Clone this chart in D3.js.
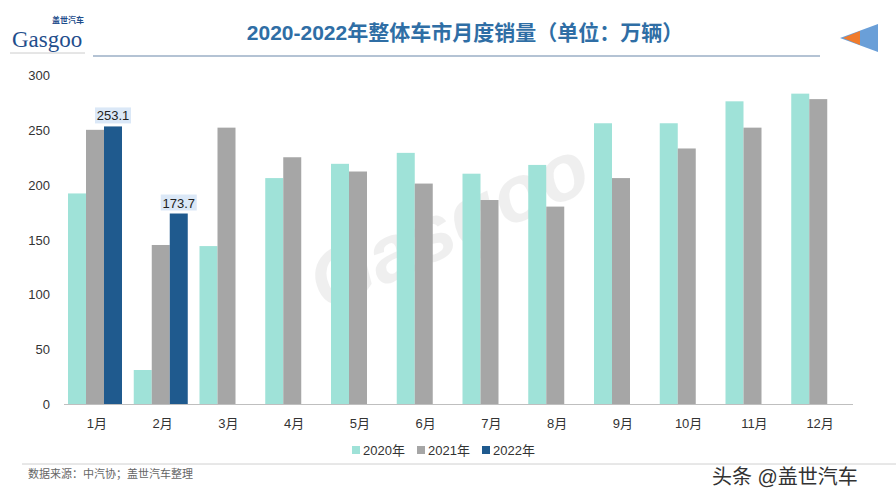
<!DOCTYPE html><html><head><meta charset="utf-8"><script src="https://cdn.jsdelivr.net/npm/d3@7"></script>
<style>body{margin:0;background:#fff}svg{font-family:"Liberation Sans","Noto Sans CJK SC",sans-serif}</style></head><body><svg id="c" width="896" height="500"></svg>
<script>
const categories=["1月","2月","3月","4月","5月","6月","7月","8月","9月","10月","11月","12月"];
const s2020=[192,31,144,206,219,229,210,218,256,256,276,283];
const s2021=[250,145,252,225,212,201,186,180,206,233,252,278];
const s2022=[253.1,173.7,null,null,null,null,null,null,null,null,null,null];
const seriesNames=["2020年","2021年","2022年"];
const colors=["#9fe2d8","#a6a6a6","#1f5a8e"];
const yTicks=[0,50,100,150,200,250,300];
const svg=d3.select("#c");
const x=d3.scaleBand().domain(categories).range([64,853]);
const y=d3.scaleLinear().domain([0,300]).range([404,75]);
// header
svg.append("text").attr("x",465).attr("y",40).attr("text-anchor","middle").attr("font-size",21).attr("font-weight","bold").attr("fill","#2f6ea5").text("2020-2022年整体车市月度销量（单位：万辆）");
svg.append("line").attr("x1",93).attr("x2",820).attr("y1",56).attr("y2",56).attr("stroke","#b4c3d4").attr("stroke-width",2);
svg.append("text").attr("x",12).attr("y",47).attr("font-size",23).attr("font-family","Liberation Serif").attr("fill","#1f4e8c").text("Gasgoo");
svg.append("text").attr("x",52).attr("y",23).attr("font-size",8).attr("font-weight","bold").attr("fill","#1f4e8c").text("盖世汽车");
svg.append("line").attr("x1",10).attr("x2",85).attr("y1",53).attr("y2",53).attr("stroke","#ccc");
svg.append("path").attr("d","M878,24 L840,38 L878,52 Z").attr("fill","#6a9fd8");
svg.append("path").attr("d","M860,31 L843,38 L860,45 Z").attr("fill","#f07b2c");
// watermark
svg.append("text").attr("x",460).attr("y",250).attr("text-anchor","middle").attr("font-size",80).attr("font-style","italic").attr("font-weight","bold").attr("fill","#000").attr("opacity",0.06).attr("transform","rotate(-25,460,250)").text("Gasgoo");
// y axis
yTicks.forEach(t=>svg.append("text").attr("x",50).attr("y",y(t)+5).attr("text-anchor","end").attr("font-size",13).attr("fill","#333").text(t));
svg.append("line").attr("x1",64).attr("x2",853).attr("y1",404.5).attr("y2",404.5).attr("stroke","#bfbfbf");
svg.append("g").selectAll("text").data(categories).join("text").attr("x",d=>x(d)+x.bandwidth()/2).attr("y",428).attr("text-anchor","middle").attr("font-size",13).attr("fill","#333").text(d=>d);
const bw=18,off=4;
[s2020,s2021,s2022].forEach((s,i)=>{
 svg.append("g").selectAll("rect").data(categories.map((c,j)=>({c,v:s[j]})).filter(d=>d.v!=null)).join("rect")
  .attr("x",d=>x(d.c)+off+i*bw).attr("width",bw).attr("y",d=>y(d.v)).attr("height",d=>y(0)-y(d.v)).attr("fill",colors[i]);
});
categories.forEach((c,j)=>{if(s2022[j]==null)return;const cx=x(c)+off+2*bw+bw/2;
 svg.append("rect").attr("x",cx-18).attr("y",y(s2022[j])-19).attr("width",36).attr("height",16).attr("fill","#dbe8f7");
 svg.append("text").attr("x",cx).attr("y",y(s2022[j])-6).attr("text-anchor","middle").attr("font-size",13).attr("fill","#222").text(s2022[j].toFixed(1));});
// legend
seriesNames.forEach((n,i)=>{const lx=352+i*65;
 svg.append("rect").attr("x",lx).attr("y",446).attr("width",8).attr("height",8).attr("fill",colors[i]);
 svg.append("text").attr("x",lx+11).attr("y",455).attr("font-size",13).attr("fill","#333").text(n);});
svg.append("line").attr("x1",22).attr("x2",896).attr("y1",464).attr("y2",464).attr("stroke","#d0d0d0");
svg.append("text").attr("x",28).attr("y",478).attr("font-size",11).attr("fill","#666").text("数据来源：中汽协；盖世汽车整理");
svg.append("text").attr("x",712).attr("y",484).attr("font-size",20).attr("fill","#333").text("头条 @盖世汽车");
</script></body></html>
